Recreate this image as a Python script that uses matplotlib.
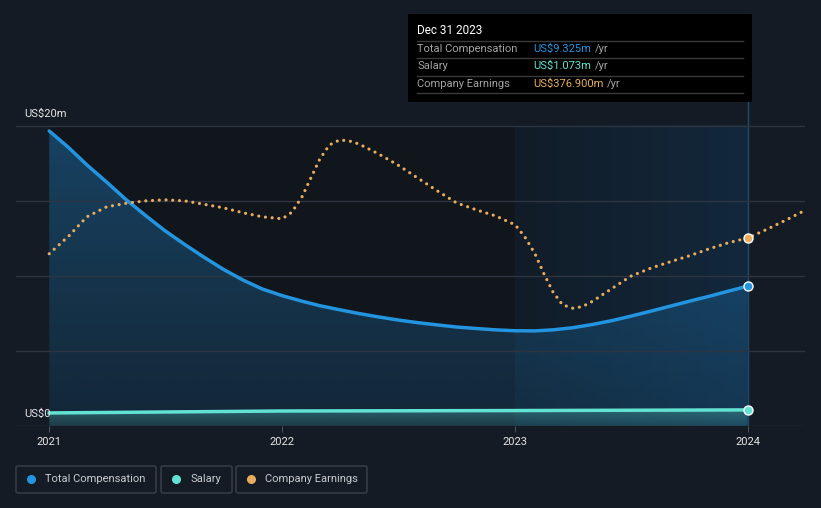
import numpy as np
import pandas as pd
from matplotlib import pyplot as plt
from matplotlib import dates as mdates
from matplotlib.lines import Line2D
from matplotlib.patches import Rectangle, FancyBboxPatch

plt.rcParams['font.family'] = ['Roboto', 'DejaVu Sans']

# ---- data (US$ m) ----
comp_dates = list(pd.date_range("2021-01-01", "2023-12-01", freq="MS")) + [pd.Timestamp("2023-12-31")]
comp_values = [19.67, 18.54, 17.41, 16.26, 15.11, 14.03, 13.03, 12.11, 11.24, 10.44, 9.72, 9.13,
               8.69, 8.32, 8.02, 7.75, 7.5, 7.27, 7.07, 6.89, 6.74, 6.6, 6.5, 6.41,
               6.35, 6.34, 6.41, 6.55, 6.76, 7.02, 7.32, 7.65, 7.99, 8.32, 8.65, 8.99,
               9.325]

salary_dates = pd.to_datetime(["2021-01-01", "2022-01-01", "2023-01-01", "2023-12-31"])
salary_values = [0.87, 1.0, 1.03, 1.073]

# company earnings: monthly readings plus a few mid-month ones where the curve is steep
earn_monthly_dates = list(pd.date_range("2021-01-01", "2024-03-01", freq="MS")) + [pd.Timestamp("2024-03-30")]
earn_monthly_values = [345, 381, 419, 439, 446, 451, 453, 451, 444, 437, 427, 419,
                       415, 459, 535, 573, 565, 545, 523, 497, 471, 447, 433, 421,
                       403, 345, 269, 236, 249, 275, 300, 316, 329, 341, 355, 367,
                       377, 395, 413, 432]
earn_extra_dates = pd.to_datetime(["2022-01-16", "2022-02-15", "2022-03-16", "2022-04-16",
                                   "2023-01-16", "2023-02-15", "2023-03-16", "2023-04-16"])
earn_extra_values = [428, 497, 563, 571, 379, 305, 243, 239]
earn = pd.Series(earn_monthly_values + earn_extra_values,
                 index=list(earn_monthly_dates) + list(earn_extra_dates)).sort_index()

year_ticks = pd.to_datetime(["2021-01-01", "2022-01-01", "2023-01-01", "2024-01-01"])
year_labels = ["2021", "2022", "2023", "2024"]

BG = '#151b24'
BLUE = '#2394df'
TEAL = '#62e3d1'
ORANGE = '#e8ad5c'
W, H = 821, 508


def px(x, y):
    # pixel position (top-left origin) -> figure fraction
    return x / W, 1 - y / H


fig = plt.figure(figsize=(W / 100, H / 100), dpi=100)
fig.patch.set_facecolor(BG)
ax = fig.add_axes([16 / W, 82 / H, 789 / W, 326 / H])
ax.set_facecolor(BG)
ymax = 21.733
x0, x1 = mdates.date2num(pd.Timestamp("2020-11-10")), mdates.date2num(pd.Timestamp("2024-03-30"))
d2021, d2023, d2024 = mdates.date2num(year_ticks[[0, 2, 3]])

# background regions
ax.add_patch(Rectangle((d2021, 0), d2023 - d2021, 20, facecolor='#11151c', edgecolor='none', zorder=0))
band = np.linspace(0, 1, 256).reshape(1, -1)
c_left, c_right = np.array([17, 28, 40]) / 255, np.array([19, 40, 60]) / 255
band_rgb = c_left[None, None, :] * (1 - band[..., None]) + c_right[None, None, :] * band[..., None]
ax.imshow(band_rgb, extent=[d2023, d2024, 0, 20], aspect='auto', zorder=0.5, interpolation='bilinear')

# gradient fills under the curves
cx = mdates.date2num(comp_dates)
poly = ax.fill_between(cx, comp_values, 0, facecolor='none', edgecolor='none')
rgba = np.zeros((256, 1, 4))
rgba[..., :3] = np.array([35, 148, 223]) / 255
rgba[..., 3] = np.linspace(0.36, 0.14, 256).reshape(-1, 1)
im = ax.imshow(rgba, extent=[cx[0], cx[-1], 0, max(comp_values)], aspect='auto', zorder=1,
               interpolation='bilinear')
im.set_clip_path(poly.get_paths()[0], transform=ax.transData)

sx = mdates.date2num(salary_dates)
spoly = ax.fill_between(sx, salary_values, 0, facecolor='none', edgecolor='none')
rgba2 = np.zeros((256, 1, 4))
rgba2[..., :3] = np.array([98, 227, 209]) / 255
rgba2[..., 3] = np.linspace(0.3, 0.12, 256).reshape(-1, 1)
im2 = ax.imshow(rgba2, extent=[sx[0], sx[-1], 0, max(salary_values)], aspect='auto', zorder=1.1,
                interpolation='bilinear')
im2.set_clip_path(spoly.get_paths()[0], transform=ax.transData)

# cursor line
ax.plot([d2024, d2024], [0, ymax], color='#1f4b6e', lw=1, zorder=1.5)

ax.plot(comp_dates, comp_values, color=BLUE, lw=2.5, zorder=3, solid_capstyle='round',
        solid_joinstyle='round')
ax.plot(salary_dates, salary_values, color=TEAL, lw=2.5, zorder=3)
ax.plot(comp_dates[-1:], comp_values[-1:], 'o', ms=6.5, mfc=BLUE, mec='white', mew=1, zorder=5)
ax.plot(salary_dates[-1:], salary_values[-1:], 'o', ms=6.5, mfc=TEAL, mec='white', mew=1, zorder=5)

ax.set_xlim(x0, x1)
ax.set_ylim(0, ymax)
ax.set_yticks([0, 5, 10, 15, 20])
ax.yaxis.grid(True, color='#2e3440', lw=1)
ax.set_axisbelow(False)
for gl in ax.get_ygridlines():
    gl.set_zorder(0.8)
ax.tick_params(axis='y', length=0, labelleft=False)
ax.set_xticks(year_ticks)
ax.set_xticklabels(year_labels)
ax.tick_params(axis='x', length=4, color='#4a515c', labelcolor='#e6e6e6', labelsize=8, pad=4)
for s in ax.spines.values():
    s.set_visible(False)

# earnings on its own hidden scale
ax2 = ax.twinx()
ax2.plot(earn.index, earn.values, color=ORANGE, lw=2.3, linestyle=(0, (0.01, 2.1)),
         dash_capstyle='round', zorder=4)
ax2.plot([pd.Timestamp("2024-01-01")], [earn[pd.Timestamp("2024-01-01")]], 'o', ms=6.5,
         mfc=ORANGE, mec='white', mew=1, zorder=5)
ax2.set_ylim(0, 653)
ax2.set_xlim(x0, x1)
ax2.axis('off')

# y labels
fig.text(*px(24, 114), "US$20m", color='#e6e6e6', fontsize=8, va='center')
fig.text(*px(24, 414), "US$0", color='#e6e6e6', fontsize=8, va='center')

# tooltip
fig.patches.append(Rectangle(px(408, 102), 344 / W, 88 / H, transform=fig.transFigure,
                             facecolor='black', edgecolor='none', zorder=10))
fig.text(*px(417, 31), "Dec 31 2023", color='white', fontsize=8.5, va='center', zorder=11)
for yy in [41, 58, 76, 93]:
    fig.add_artist(Line2D([417 / W, 743 / W], [1 - yy / H] * 2, color='#3a3a3a', lw=1, zorder=11))
rows = [("Total Compensation", "US$9.325m", BLUE, 49),
        ("Salary", "US$1.073m", TEAL, 66),
        ("Company Earnings", "US$376.900m", ORANGE, 84)]
fig.canvas.draw()
renderer = fig.canvas.get_renderer()
for label, val, col, yy in rows:
    fig.text(*px(417, yy), label, color='#a3a3a3', fontsize=8, va='center', zorder=11)
    t = fig.text(*px(533, yy), val, color=col, fontsize=8, va='center', zorder=11)
    bb = t.get_window_extent(renderer)
    fig.text((bb.x1 + 4) / W, 1 - yy / H, "/yr", color='#a3a3a3', fontsize=8, va='center', zorder=11)

# legend boxes
legend = [("Total Compensation", BLUE, 16, 156), ("Salary", TEAL, 161, 232),
          ("Company Earnings", ORANGE, 236, 367)]
for label, col, bx0, bx1 in legend:
    fig.patches.append(FancyBboxPatch(px(bx0, 493), (bx1 - bx0) / W, 27 / H,
                                      boxstyle='round,pad=0,rounding_size=0.003',
                                      transform=fig.transFigure, facecolor='none',
                                      edgecolor='#3b414b', lw=1))
    fig.add_artist(Line2D([(bx0 + 15) / W], [1 - 479 / H], marker='o', ms=5.5, color=col, lw=0))
    fig.text(*px(bx0 + 29, 479), label, color='#c9ccd1', fontsize=8, va='center')

fig.savefig('out.png', dpi=100, facecolor=BG)
